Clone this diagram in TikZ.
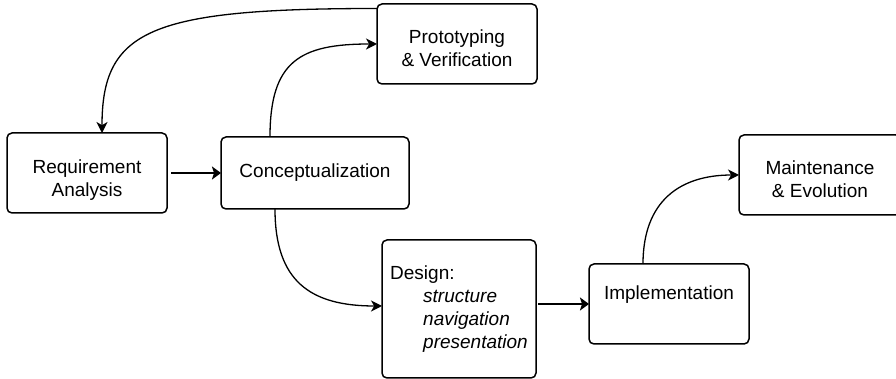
\documentclass[tikz,border=0pt]{standalone}
\usepackage{fontspec}
\setmainfont{Liberation Sans}
\usepackage{tikz}
\usetikzlibrary{positioning, arrows.meta}

\begin{document}
\begin{tikzpicture}
  [x=0.5pt,y=-0.5pt,font=\fontsize{9.5}{11.5}\selectfont,
   stagebox/.style={draw,rectangle,rounded corners=2.5pt,line width=0.75pt,inner sep=0pt,outer sep=0pt,minimum width=80pt,minimum height=40pt},
   stagetext/.style={align=center,inner sep=0pt},
   flow/.style={-{Stealth[length=5.5pt,width=5.5pt,inset=1.6pt]},line width=0.65pt},
   thickflow/.style={-{Stealth[length=4.5pt,width=6.5pt,inset=1pt]},line width=1.3pt}]
  \useasboundingbox (0,0) rectangle (896,379);
  \clip (0,0) rectangle (896,379);
  \node (reqanalysis) at (87,173) [stagebox,label={[stagetext,yshift=-3.75pt]center:Requirement\\Analysis}] {};
  \node (concept) [stagebox,minimum width=94pt,minimum height=36pt,right=27pt of reqanalysis,
    label={[stagetext]center:Conceptualization}] {};
  \node (prototyping) [stagebox,above right=26.5pt and 31pt of concept.north,
    label={[stagetext,yshift=-2.35pt]center:Prototyping\\\& Verification}] {};
  \node (design) [stagebox,minimum width=77pt,minimum height=69pt,align=left,below right=15.5pt and 33.5pt of concept.south]
    {Design:\\\hspace*{16.5pt}\textit{structure}\\\hspace*{16.5pt}\textit{navigation}\\\hspace*{16.5pt}\textit{presentation}};
  \node (implementation) [stagebox,below right=12pt and 26.5pt of design.north east,
    label={[stagetext,yshift=4.75pt]center:Implementation}] {};
  \node (maintenance) [stagebox,minimum width=81pt,above right=24.5pt and 35pt of implementation.north,
    label={[stagetext,yshift=-2.1pt]center:Maintenance\\\& Evolution}] {};
  \draw [thickflow,shorten <=2pt] (reqanalysis) -- (concept);
  \draw [thickflow,shorten <=1pt] (design.east |- implementation) -- (implementation.west);
  \draw [flow] ([xshift=-22.5pt]concept.north) .. controls +(0,-76) and +(-77,0) .. (prototyping.west);
  \draw [flow] ([yshift=-2.25pt]prototyping.north west) .. controls +(-227,0) and +(0,-103) .. ([xshift=7.5pt]reqanalysis.north);
  \draw [flow] ([xshift=-20pt]concept.south) .. controls +(0,72) and +(-72,0) .. ([yshift=1.5pt]design.west);
  \draw [flow] ([xshift=-13pt]implementation.north) .. controls +(0,-63) and +(-59,0) .. (maintenance.west);
\end{tikzpicture}
\end{document}
